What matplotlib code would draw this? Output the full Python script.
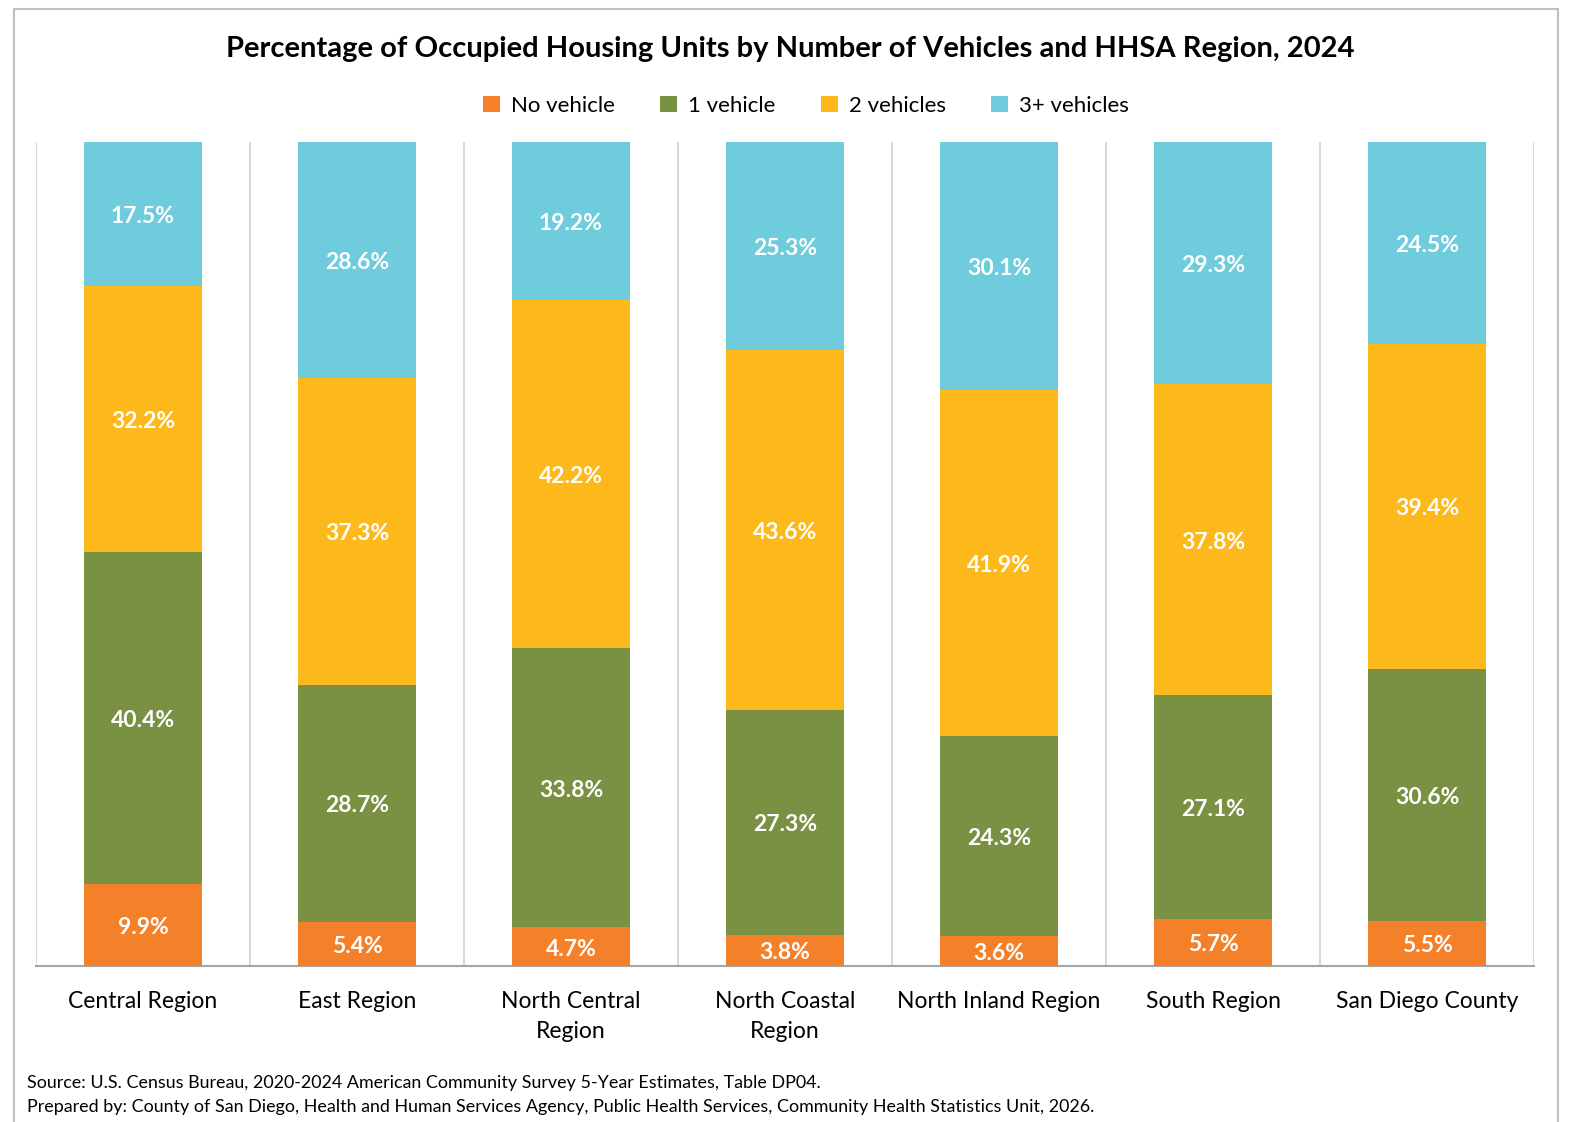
import matplotlib
matplotlib.use("Agg")
import matplotlib.pyplot as plt
import numpy as np
from matplotlib.patches import Rectangle

plt.rcParams['font.family'] = ['Lato', 'DejaVu Sans']

categories = ["Central Region", "East Region", "North Central\nRegion", "North Coastal\nRegion",
              "North Inland Region", "South Region", "San Diego County"]
series_names = ["No vehicle", "1 vehicle", "2 vehicles", "3+ vehicles"]
no_vehicle = [9.9, 5.4, 4.7, 3.8, 3.6, 5.7, 5.5]
one_vehicle = [40.4, 28.7, 33.8, 27.3, 24.3, 27.1, 30.6]
two_vehicles = [32.2, 37.3, 42.2, 43.6, 41.9, 37.8, 39.4]
three_plus = [17.5, 28.6, 19.2, 25.3, 30.1, 29.3, 24.5]
colors = ["#F4812A", "#7A9143", "#FDB91B", "#6FCCDD"]

title = "Percentage of Occupied Housing Units by Number of Vehicles and HHSA Region, 2024"
source_lines = ["Source: U.S. Census Bureau, 2020-2024 American Community Survey 5-Year Estimates, Table DP04.",
                "Prepared by: County of San Diego, Health and Human Services Agency, Public Health Services, Community Health Statistics Unit, 2026."]

W, H = 1571, 1122
fig = plt.figure(figsize=(W / 100, H / 100), dpi=100)
fig.patch.set_facecolor("white")

# outer border
fig.patches.append(Rectangle((14 / W, -0.05), (1558 - 14) / W, 1 - 9 / H + 0.05,
                             transform=fig.transFigure, fill=False, edgecolor="#BFBFBF", linewidth=1.5))

ax = fig.add_axes([36 / W, 1 - 966 / H, (1534 - 36) / W, (966 - 142) / H])

data = np.array([no_vehicle, one_vehicle, two_vehicles, three_plus])
totals = data.sum(axis=0)
pct = data / totals * 100
x = np.arange(len(categories))
bottom = np.zeros(len(categories))
width = 0.555
for i, name in enumerate(series_names):
    ax.bar(x, pct[i], width, bottom=bottom, color=colors[i], label=name, zorder=3)
    for j in range(len(categories)):
        ax.annotate(f"{data[i][j]:.1f}%", (x[j], bottom[j] + pct[i][j] / 2),
                    xytext=(0, -2.5), textcoords="offset pixels",
                    ha="center", va="center", color="white", fontsize=16.5,
                    fontweight="bold", zorder=4)
    bottom += pct[i]

ax.set_xlim(-0.5, len(categories) - 0.5)
ax.set_ylim(0, 100)
for k in range(len(categories) + 1):
    ax.axvline(k - 0.5, color="#D9D9D9", linewidth=1.5, zorder=1)
for s in ["top", "right", "left"]:
    ax.spines[s].set_visible(False)
ax.spines["bottom"].set_color("#A6A6A6")
ax.spines["bottom"].set_linewidth(1.5)
ax.set_yticks([])
ax.set_xticks(x)
ax.set_xticklabels(categories, fontsize=16.5, linespacing=1.55)
ax.tick_params(axis="x", length=0, pad=18)

fig.text(790 / W, 1 - 49 / H, title, ha="center", va="center", fontsize=21, fontweight="bold")

handles, labels = ax.get_legend_handles_labels()
leg = fig.legend(handles, labels, loc="center", bbox_to_anchor=(806 / W, 1 - 106 / H), ncol=4,
                 frameon=False, fontsize=16, handlelength=0.75, handleheight=0.75,
                 handletextpad=0.5, columnspacing=2.05)

fig.text(27 / W, 1 - 1083 / H, source_lines[0], ha="left", va="center", fontsize=12.9)
fig.text(27 / W, 1 - 1107 / H, source_lines[1], ha="left", va="center", fontsize=12.9)

fig.savefig("out.png", dpi=100)
